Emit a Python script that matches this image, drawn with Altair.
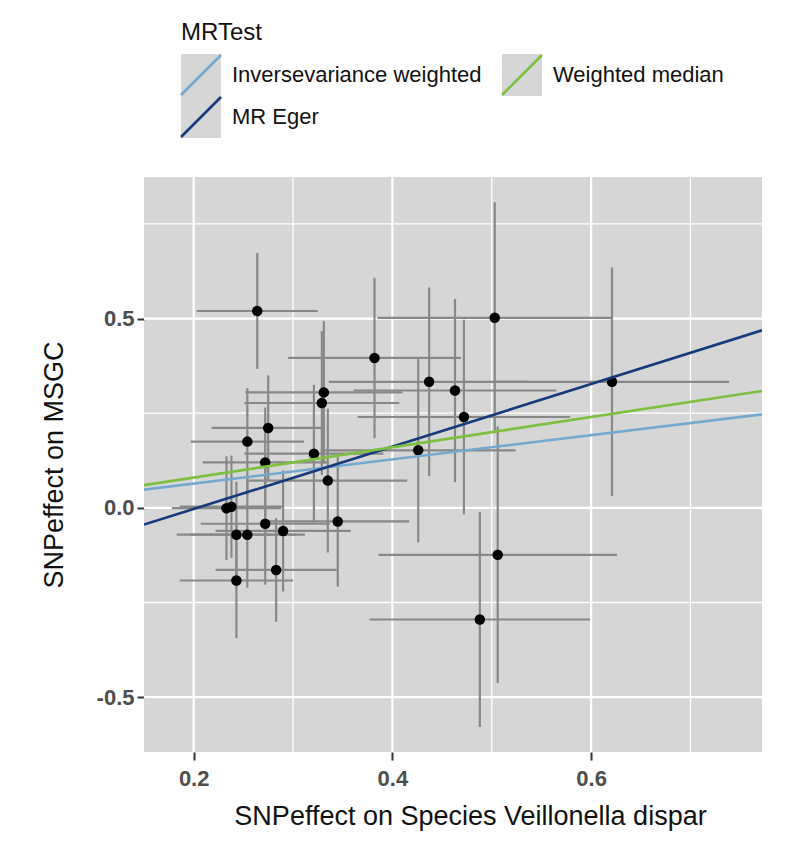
import altair as alt
import pandas as pd

# SNP effects on the exposure (x) and on the outcome (y), with their standard errors
beta_exposure = [0.264, 0.382, 0.503, 0.437, 0.463, 0.331, 0.329, 0.275, 0.254, 0.321,
                 0.272, 0.426, 0.472, 0.621, 0.335, 0.233, 0.238, 0.272, 0.243, 0.254,
                 0.290, 0.345, 0.283, 0.243, 0.506, 0.488]
beta_outcome = [0.520, 0.396, 0.502, 0.333, 0.310, 0.305, 0.277, 0.211, 0.175, 0.143,
                0.120, 0.152, 0.240, 0.333, 0.072, -0.001, 0.003, -0.042, -0.071, -0.071,
                -0.061, -0.036, -0.164, -0.192, -0.124, -0.295]
se_exposure = [0.061, 0.087, 0.118, 0.101, 0.102, 0.079, 0.078, 0.057, 0.057, 0.070,
               0.063, 0.098, 0.107, 0.118, 0.080, 0.055, 0.052, 0.065, 0.060, 0.058,
               0.068, 0.072, 0.061, 0.057, 0.120, 0.111]
se_outcome = [0.153, 0.212, 0.305, 0.249, 0.242, 0.188, 0.190, 0.139, 0.141, 0.182,
              0.145, 0.243, 0.257, 0.302, 0.190, 0.137, 0.135, 0.161, 0.140, 0.140,
              0.160, 0.172, 0.137, 0.152, 0.339, 0.284]

# MR estimates drawn as regression lines
methods = ["Inversevariance weighted", "MR Eger", "Weighted median"]
slopes = [0.320, 0.825, 0.400]
intercepts = [0.0, -0.168, 0.0]
method_colors = ["#74a9cf", "#163a7a", "#7dbf3f"]

# legend layout (column / row of each key)
legend_col = [0, 0, 1]
legend_row = [0, 1, 0]

x_domain = [0.15, 0.772]
y_domain = [-0.645, 0.874]
x_major = [0.2, 0.4, 0.6]
x_minor = [0.3, 0.5, 0.7]
y_major = [-0.5, 0.0, 0.5]
y_minor = [-0.25, 0.25, 0.75]

FONT = "Liberation Sans"
PANEL = "#d6d6d6"
HYPHEN_LABEL = "replace(format(datum.value, '.1f'), '\u2212', '-')"

pts = pd.DataFrame({"bx": beta_exposure, "by": beta_outcome,
                    "sx": se_exposure, "sy": se_outcome})
pts["x_lo"] = pts.bx - pts.sx
pts["x_hi"] = pts.bx + pts.sx
pts["y_lo"] = pts.by - pts.sy
pts["y_hi"] = pts.by + pts.sy

line_rows = []
for m, b, a in zip(methods, slopes, intercepts):
    for xv in x_domain:
        line_rows.append({"method": m, "bx": xv, "by": a + b * xv})
lines = pd.DataFrame(line_rows)

x_scale = alt.Scale(domain=x_domain, nice=False, zero=False)
y_scale = alt.Scale(domain=y_domain, nice=False, zero=False)

x_axis = alt.Axis(values=x_major, labelExpr=HYPHEN_LABEL, grid=False, domain=False,
                  tickSize=8, tickWidth=2, tickColor="#333333",
                  labelFont=FONT, labelFontSize=22, labelFontWeight="bold",
                  labelColor="#4d4d4d", labelPadding=8,
                  title="SNPeffect on Species Veillonella dispar",
                  titleFont=FONT, titleFontSize=27, titleFontWeight="normal",
                  titleColor="#111111", titlePadding=14, titleX=326,
                  titleAlign="center")
y_axis = alt.Axis(values=y_major, labelExpr=HYPHEN_LABEL, grid=False, domain=False,
                  tickSize=7, tickWidth=2, tickColor="#333333",
                  labelFont=FONT, labelFontSize=22, labelFontWeight="bold",
                  labelColor="#4d4d4d", labelPadding=3,
                  title="SNPeffect on MSGC",
                  titleFont=FONT, titleFontSize=27, titleFontWeight="normal",
                  titleColor="#111111", titlePadding=28)

color_scale = alt.Scale(domain=methods, range=method_colors)


def xenc(field):
    return alt.X(field, type="quantitative", scale=x_scale, axis=x_axis)


def yenc(field):
    return alt.Y(field, type="quantitative", scale=y_scale, axis=y_axis)


grid_minor_x = alt.Chart(pd.DataFrame({"v": x_minor})).mark_rule(
    color="white", strokeWidth=1.3).encode(x=xenc("v"))
grid_major_x = alt.Chart(pd.DataFrame({"v": x_major})).mark_rule(
    color="white", strokeWidth=2.3).encode(x=xenc("v"))
grid_minor_y = alt.Chart(pd.DataFrame({"v": y_minor})).mark_rule(
    color="white", strokeWidth=1.3).encode(y=yenc("v"))
grid_major_y = alt.Chart(pd.DataFrame({"v": y_major})).mark_rule(
    color="white", strokeWidth=2.3).encode(y=yenc("v"))

err_h = alt.Chart(pts).mark_rule(color="#888888", strokeWidth=2.2).encode(
    x=xenc("x_lo"), x2="x_hi", y=yenc("by"))
err_v = alt.Chart(pts).mark_rule(color="#888888", strokeWidth=2.2).encode(
    x=xenc("bx"), y=yenc("y_lo"), y2="y_hi")
dots = alt.Chart(pts).mark_circle(size=110, color="black", opacity=1).encode(
    x=xenc("bx"), y=yenc("by"))
fits = alt.Chart(lines).mark_line(strokeWidth=2.6, clip=True).encode(
    x=xenc("bx"), y=yenc("by"),
    color=alt.Color("method:N", scale=color_scale, legend=None))

main = alt.layer(grid_minor_x, grid_major_x, grid_minor_y, grid_major_y,
                 err_h, err_v, dots, fits).properties(
    width=618, height=575,
    view=alt.ViewBackground(fill=PANEL, stroke=None))

# legend panel
leg = pd.DataFrame({"method": methods, "col": legend_col, "row": legend_row})
lx = alt.X("col:Q", scale=alt.Scale(domain=[0, 1], range=[57, 378]), axis=None)
ly = alt.Y("row:Q", scale=alt.Scale(domain=[0, 1], range=[75, 117]), axis=None)

key_bg = alt.Chart(leg).mark_point(
    shape="M-1,-1.05H1V1.05H-1Z", filled=True, color=PANEL, size=1600,
    opacity=1, strokeWidth=0).encode(x=lx, y=ly)
key_line = alt.Chart(leg).mark_point(
    shape="M-1,1L1,-1", filled=False, size=1600, strokeWidth=2.6,
    opacity=1).encode(x=lx, y=ly,
                      color=alt.Color("method:N", scale=color_scale, legend=None))
key_text = alt.Chart(leg).mark_text(
    align="left", baseline="middle", dx=31, font=FONT, fontSize=22,
    color="#111111").encode(x=lx, y=ly, text="method:N")
leg_title = alt.Chart(pd.DataFrame({"col": [0], "row": [-1], "t": ["MRTest"]})).mark_text(
    align="left", baseline="middle", dx=-20, font=FONT, fontSize=24,
    color="#111111").encode(x=lx, y=ly, text="t:N")

legend_panel = alt.layer(key_bg, key_line, key_text, leg_title).properties(
    width=618, height=156,
    view=alt.ViewBackground(fill=None, stroke=None))

chart = alt.vconcat(legend_panel, main, spacing=21, bounds="flush").properties(
    padding={"left": 40, "top": 0, "right": 10, "bottom": 10},
    background="white",
).configure_view(stroke=None)

chart.save("out.html", embed_options={"renderer": "svg", "actions": False})
